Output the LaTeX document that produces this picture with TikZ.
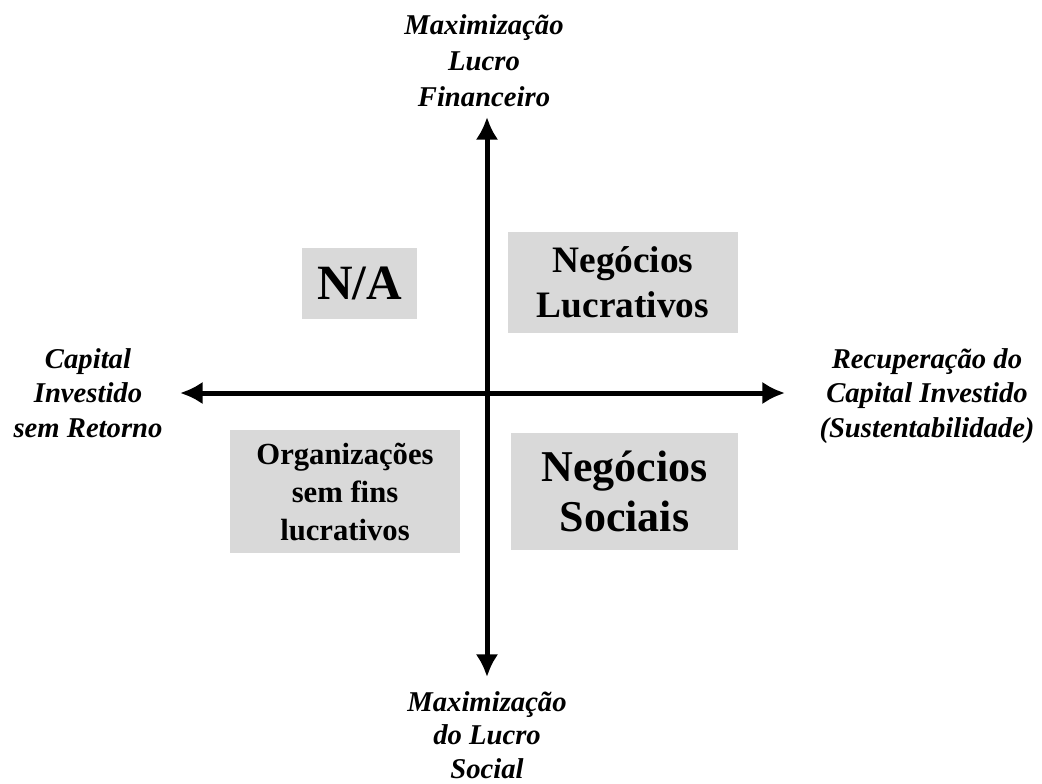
\documentclass[tikz,border=0pt]{standalone}
\usepackage{fontspec}
\setmainfont{Liberation Serif}
\usetikzlibrary{arrows.meta}

\begin{document}
\begin{tikzpicture}[x = 0.75pt, y = -0.75pt, > = {Latex[length = 17pt, width = 17pt]},
	every node/.style = {text = black, align = center},
	quadrant/.style = {fill = gray!30, inner sep = 0pt, font = \bfseries},
	axislabel/.style = {font = \bfseries\itshape\fontsize{21.5}{26}\selectfont}]

	% Definitions

	\def\X{487}		% Vertical axis position
	\def\Y{393}		% Horizontal axis position

	\useasboundingbox (0, 0) rectangle (1042, 783);

	% Axis ends

	\coordinate (west) at (180, \Y);
	\coordinate (east) at (785, \Y);
	\coordinate (north) at (\X, 117);
	\coordinate (south) at (\X, 677);

	% Axes

	\begin{scope}[<->, line width = 3.75pt]

		\draw (west) -- (east);
		\draw (south) -- (north);

	\end{scope}

	% Axis labels

	\node [axislabel, font = \bfseries\itshape\fontsize{21.5}{27}\selectfont]
		(lucrofin) at (484, 61) {Maximização\\Lucro\\Financeiro};
	\node [axislabel, font = \bfseries\itshape\fontsize{21.5}{25}\selectfont]
		(lucrosoc) at (487, 735) {Maximização\\do Lucro\\Social};
	\node [axislabel] (semretorno) at (88, 393) {Capital\\Investido\\sem Retorno};
	\node [axislabel] (recuperacao) at (927, 396) {Recuperação do\\Capital Investido\\(Sustentabilidade)};

	% Quadrants

	\node [quadrant, minimum width = 86pt, minimum height = 53pt,
		font = \bfseries\fontsize{37}{44}\selectfont] (na) at (359.5, 283.5) {N/A};
	\node [quadrant, minimum width = 172pt, minimum height = 76pt,
		font = \bfseries\fontsize{28}{34}\selectfont] (lucrativos) at (623, 282.5) {Negócios\\Lucrativos};
	\node [quadrant, minimum width = 172pt, minimum height = 92pt,
		font = \bfseries\fontsize{23}{28.5}\selectfont] (semfins) at (345, 491.5) {Organizações\\sem fins\\lucrativos};
	\node [quadrant, minimum width = 170pt, minimum height = 88pt,
		font = \bfseries\fontsize{33}{37.5}\selectfont] (sociais) at (624.5, 491.5) {Negócios\\Sociais};

\end{tikzpicture}
\end{document}
